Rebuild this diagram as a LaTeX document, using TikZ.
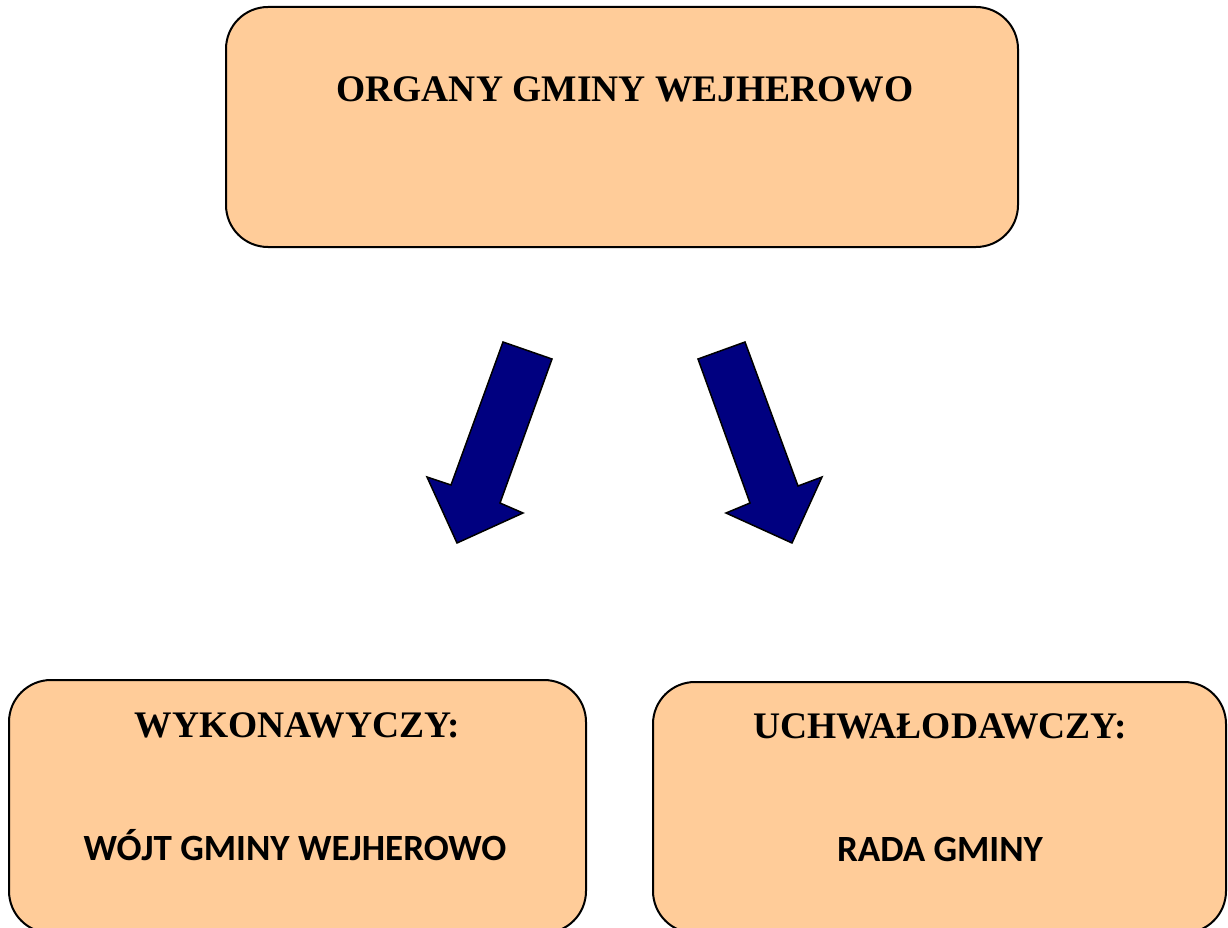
\documentclass[tikz,border=0pt]{standalone}
\usepackage{fontspec}
\setmainfont{Liberation Serif}
\newfontfamily\calfont{Carlito}
\definecolor{peach}{HTML}{FFCC99}
\definecolor{navyblue}{HTML}{000080}
\begin{document}
\begin{tikzpicture}[x=1pt,y=-1pt,
  orgbox/.style={draw=black, line width=2pt, fill=peach, rounded corners=42pt, inner sep=0pt},
  serifhead/.style={anchor=base, inner sep=0pt, font=\fontsize{37.5}{45}\selectfont\bfseries},
  sanstext/.style={anchor=base, inner sep=0pt, font=\calfont\fontsize{37}{44}\selectfont\bfseries},
  blockarrow/.style={fill=navyblue, draw=black, line width=1.5pt, line join=miter}]
\useasboundingbox (0,0) rectangle (1228,928);
\begin{scope}
\clip (0,0) rectangle (1228,928);
% boxes
\node[orgbox, minimum width=792pt, minimum height=240pt] (top) at (622,127) {};
\node[orgbox, minimum width=577pt, minimum height=253pt] (left) at (297.5,806.5) {};
\node[orgbox, minimum width=573pt, minimum height=251pt] (right) at (939.5,807.5) {};
\end{scope}
% texts
\node[serifhead] (toptext) at (625,102) {ORGANY GMINY WEJHEROWO};
\node[serifhead] (lefthead) at (297.5,737) {WYKONAWYCZY:};
\node[serifhead] (righthead) at (940,738) {UCHWAŁODAWCZY:};
\node[sanstext] (lefttext) at (295,860) {WÓJT GMINY WEJHEROWO};
\node[sanstext] (righttext) at (940,861) {RADA GMINY};
% arrows
\coordinate (la1) at (503,342);
\coordinate (la2) at (552,359);
\coordinate (la3) at (500,503);
\coordinate (la4) at (523,513);
\coordinate (la5) at (457,543);
\coordinate (la6) at (427,477);
\coordinate (la7) at (451,485);
\draw[blockarrow] (la1) -- (la2) -- (la3) -- (la4) -- (la5) -- (la6) -- (la7) -- cycle;
\coordinate (ra1) at (698,359);
\coordinate (ra2) at (745,342);
\coordinate (ra3) at (798,486);
\coordinate (ra4) at (822,477);
\coordinate (ra5) at (792,543);
\coordinate (ra6) at (726,513);
\coordinate (ra7) at (750,503);
\draw[blockarrow] (ra1) -- (ra2) -- (ra3) -- (ra4) -- (ra5) -- (ra6) -- (ra7) -- cycle;
\end{tikzpicture}
\end{document}
